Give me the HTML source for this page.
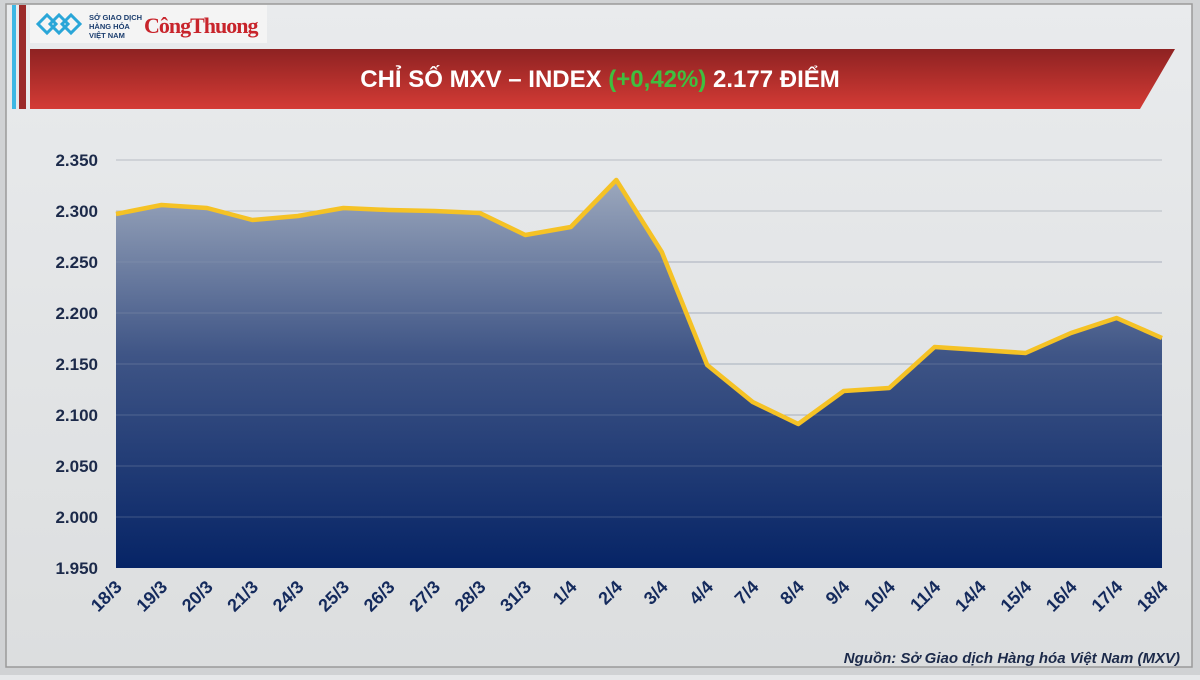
<!DOCTYPE html>
<html><head><meta charset="utf-8"><style>
body{margin:0;width:1200px;height:675px;overflow:hidden;background:#e6e8ea;font-family:"Liberation Sans","DejaVu Sans",sans-serif}
</style></head><body>
<svg width="1200" height="675" viewBox="0 0 1200 675" xmlns="http://www.w3.org/2000/svg">
<defs>
<linearGradient id="bg" x1="0" y1="0" x2="0" y2="1"><stop offset="0" stop-color="#e9ebed"/><stop offset="1" stop-color="#dcdedf"/></linearGradient>
<linearGradient id="area" x1="0" y1="0" x2="0" y2="1"><stop offset="0" stop-color="#9ca8bd"/><stop offset="0.45" stop-color="#3f5586"/><stop offset="1" stop-color="#062466"/></linearGradient>
<linearGradient id="ban" x1="0" y1="0" x2="0" y2="1"><stop offset="0" stop-color="#8e2222"/><stop offset="1" stop-color="#d43b35"/></linearGradient>
</defs>
<rect width="1200" height="675" fill="#d0d2d4"/>
<rect x="6" y="4" width="1186" height="663" fill="url(#bg)" stroke="#9a9a9a" stroke-width="1.5"/>
<rect x="12" y="5" width="4" height="104" fill="#3db7e4"/>
<rect x="19" y="5" width="7" height="104" fill="#9b2a2a"/>
<rect x="30" y="5" width="237" height="38" fill="#f4f4f4"/>
<g fill="none" stroke="#2aa6d8" stroke-width="3"><path d="M38 24 l9-9 l9 9 l-9 9z M50 24 l9-9 l9 9 l-9 9z M62 24 l9-9 l9 9 l-9 9z"/></g>
<text x="89" y="20" font-size="7.5" fill="#1b3d6e" font-weight="bold">SỞ GIAO DỊCH</text>
<text x="89" y="29" font-size="7.5" fill="#1b3d6e" font-weight="bold">HÀNG HÓA</text>
<text x="89" y="38" font-size="7.5" fill="#1b3d6e" font-weight="bold">VIỆT NAM</text>
<text x="144" y="33" font-size="22" fill="#c8242b" font-family="Liberation Serif,serif" font-weight="bold" letter-spacing="-1">CôngThuong</text>
<polygon points="30,49 1175,49 1140,109 30,109" fill="url(#ban)"/>
<text x="600" y="87" text-anchor="middle" font-size="24" font-weight="bold" fill="#fff">CHỈ SỐ MXV – INDEX <tspan fill="#3fbf3f">(+0,42%)</tspan> 2.177 ĐIỂM</text>
<g stroke="#b8bcc4" stroke-width="1">
<line x1="116" y1="160" x2="1162" y2="160"/><line x1="116" y1="211" x2="1162" y2="211"/><line x1="116" y1="262" x2="1162" y2="262"/><line x1="116" y1="313" x2="1162" y2="313"/><line x1="116" y1="364" x2="1162" y2="364"/><line x1="116" y1="415" x2="1162" y2="415"/><line x1="116" y1="466" x2="1162" y2="466"/><line x1="116" y1="517" x2="1162" y2="517"/></g>
<polygon fill="url(#area)" points="116,568 116,214 161.5,205 207,208 252.4,220 297.9,216 343.4,208 388.9,210 434.4,211 479.8,213 525.3,235 570.8,227 616.3,180 661.8,252 707.2,365 752.7,402 798.2,424 843.7,391 889.2,388 934.6,347 980.1,350 1025.6,353 1071,333 1116.6,318 1162,338 1162,568"/>
<g stroke="#8c9ab2" stroke-width="0.8" opacity="0.5"><line x1="116" y1="262" x2="1162" y2="262"/><line x1="116" y1="313" x2="1162" y2="313"/><line x1="116" y1="364" x2="1162" y2="364"/><line x1="116" y1="415" x2="1162" y2="415"/><line x1="116" y1="466" x2="1162" y2="466"/><line x1="116" y1="517" x2="1162" y2="517"/></g>
<polyline fill="none" stroke="#f5c225" stroke-width="4.5" stroke-linejoin="round" points="116,214 161.5,205 207,208 252.4,220 297.9,216 343.4,208 388.9,210 434.4,211 479.8,213 525.3,235 570.8,227 616.3,180 661.8,252 707.2,365 752.7,402 798.2,424 843.7,391 889.2,388 934.6,347 980.1,350 1025.6,353 1071,333 1116.6,318 1162,338"/>
<g font-size="17" font-weight="bold" fill="#1c2a4a" text-anchor="end">
<text x="98" y="166">2.350</text><text x="98" y="217">2.300</text><text x="98" y="268">2.250</text><text x="98" y="319">2.200</text><text x="98" y="370">2.150</text><text x="98" y="421">2.100</text><text x="98" y="472">2.050</text><text x="98" y="523">2.000</text><text x="98" y="574">1.950</text>
</g>
<g font-size="18" font-weight="bold" fill="#142a5c" text-anchor="end">
<text transform="translate(123,588) rotate(-45)">18/3</text>
<text transform="translate(168.5,588) rotate(-45)">19/3</text>
<text transform="translate(214,588) rotate(-45)">20/3</text>
<text transform="translate(259.4,588) rotate(-45)">21/3</text>
<text transform="translate(304.9,588) rotate(-45)">24/3</text>
<text transform="translate(350.4,588) rotate(-45)">25/3</text>
<text transform="translate(395.9,588) rotate(-45)">26/3</text>
<text transform="translate(441.4,588) rotate(-45)">27/3</text>
<text transform="translate(486.8,588) rotate(-45)">28/3</text>
<text transform="translate(532.3,588) rotate(-45)">31/3</text>
<text transform="translate(577.8,588) rotate(-45)">1/4</text>
<text transform="translate(623.3,588) rotate(-45)">2/4</text>
<text transform="translate(668.8,588) rotate(-45)">3/4</text>
<text transform="translate(714.2,588) rotate(-45)">4/4</text>
<text transform="translate(759.7,588) rotate(-45)">7/4</text>
<text transform="translate(805.2,588) rotate(-45)">8/4</text>
<text transform="translate(850.7,588) rotate(-45)">9/4</text>
<text transform="translate(896.2,588) rotate(-45)">10/4</text>
<text transform="translate(941.6,588) rotate(-45)">11/4</text>
<text transform="translate(987.1,588) rotate(-45)">14/4</text>
<text transform="translate(1032.6,588) rotate(-45)">15/4</text>
<text transform="translate(1078,588) rotate(-45)">16/4</text>
<text transform="translate(1123.6,588) rotate(-45)">17/4</text>
<text transform="translate(1169,588) rotate(-45)">18/4</text>
</g>
<text x="1180" y="663" text-anchor="end" font-size="15" font-style="italic" font-weight="bold" fill="#1c2a4a">Nguồn: Sở Giao dịch Hàng hóa Việt Nam (MXV)</text>
</svg>
</body></html>
